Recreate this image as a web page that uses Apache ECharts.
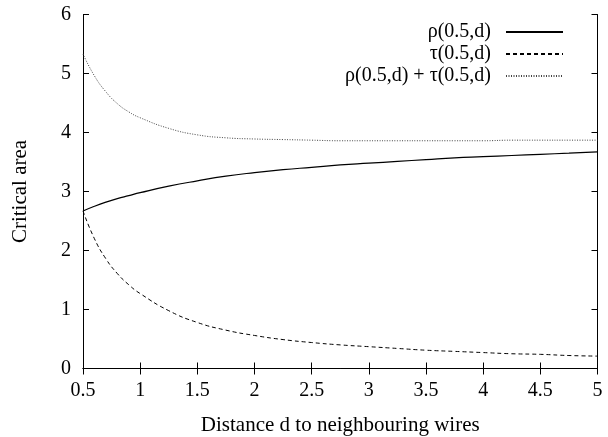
<!DOCTYPE html>
<html>
<head>
<meta charset="utf-8">
<script src="https://cdn.jsdelivr.net/npm/echarts@6/dist/echarts.min.js"></script>
<style>html,body{margin:0;padding:0;background:#fff;}#c{width:608px;height:437px;}</style>
</head>
<body>
<div id="c"></div>
<script>
var dValues = [0.5, 0.6, 0.7, 0.8, 0.9, 1, 1.25, 1.5, 1.75, 2, 2.25, 2.5, 2.75, 3, 3.25, 3.5, 3.75, 4, 4.25, 4.5, 4.75, 5];
var rhoValues = [2.67, 2.75, 2.82, 2.88, 2.93, 2.98, 3.09, 3.18, 3.26, 3.32, 3.37, 3.41, 3.45, 3.48, 3.51, 3.54, 3.57, 3.59, 3.61, 3.63, 3.65, 3.67];
var tauValues = [2.67, 2.20, 1.86, 1.61, 1.42, 1.27, 0.98, 0.78, 0.65, 0.56, 0.49, 0.44, 0.40, 0.37, 0.34, 0.31, 0.29, 0.27, 0.25, 0.24, 0.22, 0.21];
var sumValues = [5.33, 4.96, 4.69, 4.49, 4.35, 4.25, 4.07, 3.96, 3.91, 3.89, 3.88, 3.87, 3.86, 3.86, 3.86, 3.86, 3.86, 3.86, 3.87, 3.87, 3.87, 3.87];
var seriesNames = ['ρ(0.5,d)', 'τ(0.5,d)', 'ρ(0.5,d) + τ(0.5,d)'];
var xTitle = 'Distance d to neighbouring wires';
var yTitle = 'Critical area';

function pairs(xs, ys) { return xs.map(function (x, i) { return [x, ys[i]]; }); }

var FONT = '"Liberation Serif", "DejaVu Serif", serif';
var chart = echarts.init(document.getElementById('c'), null, {renderer: 'canvas'});
var axisLine = {show: true, lineStyle: {color: '#000', width: 1}};
var tickIn = {show: true, inside: true, length: 6, lineStyle: {color: '#000', width: 1}};
chart.setOption({
  animation: false,
  backgroundColor: '#fff',
  grid: {left: 83, right: 10.5, top: 14.5, bottom: 68.5, containLabel: false, outerBoundsMode: 'none'},
  legend: {
    orient: 'vertical',
    right: 39,
    top: 16,
    align: 'right',
    itemWidth: 57,
    itemHeight: 10,
    itemGap: 0,
    itemStyle: {color: 'rgba(0,0,0,0)', borderColor: 'rgba(0,0,0,0)', borderWidth: 0, opacity: 0},
    textStyle: {fontFamily: FONT, fontSize: 20, lineHeight: 22, color: '#000', padding: [0, 10, 0, 0]},
    data: seriesNames
  },
  xAxis: [{
    type: 'value', min: 0.5, max: 5, interval: 0.5,
    axisLine: axisLine, axisTick: tickIn, splitLine: {show: false},
    axisLabel: {fontFamily: FONT, fontSize: 20, color: '#000', margin: 12},
    name: xTitle, nameLocation: 'middle', nameGap: 46,
    nameTextStyle: {fontFamily: FONT, fontSize: 21, color: '#000'}
  }, {
    type: 'value', position: 'top', min: 0.5, max: 5, interval: 0.5,
    axisLine: axisLine, axisTick: tickIn, axisLabel: {show: false}, splitLine: {show: false}
  }],
  yAxis: [{
    type: 'value', min: 0, max: 6, interval: 1,
    axisLine: axisLine, axisTick: tickIn, splitLine: {show: false},
    axisLabel: {fontFamily: FONT, fontSize: 20, color: '#000', margin: 12},
    name: yTitle, nameLocation: 'middle', nameGap: 52, nameRotate: 90,
    nameTextStyle: {fontFamily: FONT, fontSize: 21, color: '#000'}
  }, {
    type: 'value', position: 'right', min: 0, max: 6, interval: 1,
    axisLine: axisLine, axisTick: tickIn, axisLabel: {show: false}, splitLine: {show: false}
  }],
  series: [{
    name: seriesNames[0], type: 'line', data: pairs(dValues, rhoValues),
    symbol: 'none', smooth: true,
    lineStyle: {color: '#000', width: 1.2, type: 'solid'}, itemStyle: {color: '#000'}
  }, {
    name: seriesNames[1], type: 'line', data: pairs(dValues, tauValues),
    symbol: 'none', smooth: true,
    lineStyle: {color: '#000', width: 1, type: [4, 3]}, itemStyle: {color: '#000'}
  }, {
    name: seriesNames[2], type: 'line', data: pairs(dValues, sumValues),
    symbol: 'none', smooth: true,
    lineStyle: {color: '#444', width: 1, type: [1, 1.5]}, itemStyle: {color: '#444'}
  }]
});
</script>
</body>
</html>
